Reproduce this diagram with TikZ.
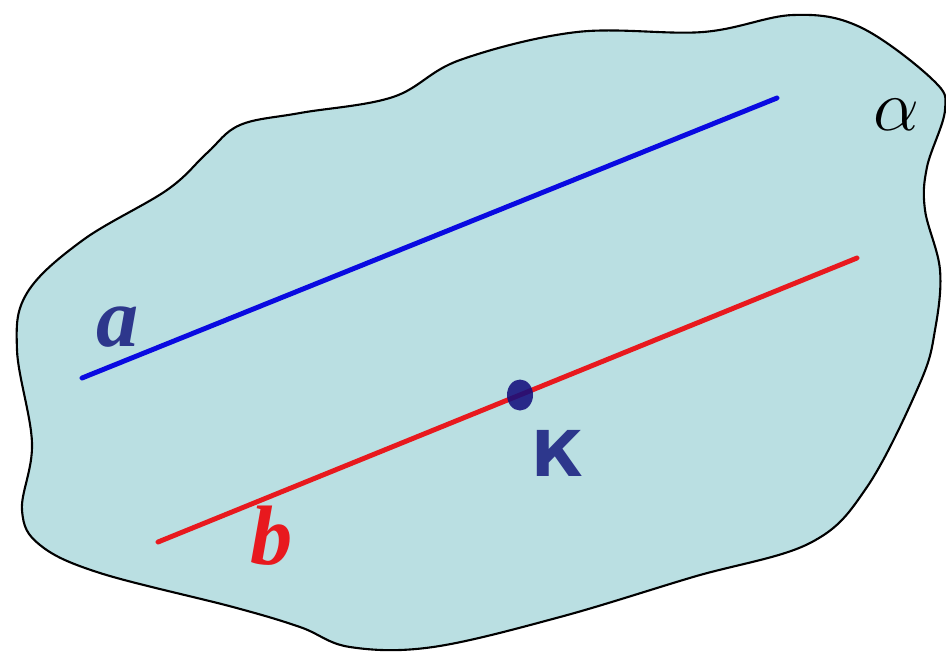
\documentclass[tikz,border=0pt]{standalone}
\usepackage{fontspec}
\setmainfont{Liberation Serif}
\newfontfamily\cyrsans{DejaVu Sans}
\usetikzlibrary{shapes.geometric}
\definecolor{planefill}{RGB}{186,223,226}
\definecolor{lineblue}{RGB}{10,10,225}
\definecolor{linered}{RGB}{232,25,30}
\definecolor{labelnavy}{RGB}{45,55,140}
\definecolor{dotnavy}{RGB}{20,15,125}

\begin{document}
\begin{tikzpicture}[
    x=0.1mm, y=-0.1mm,
    plane/.style ={draw=black, line width=0.6pt, fill=planefill},
    lineA/.style ={draw=lineblue, line width=1.4pt, line cap=round},
    lineB/.style ={draw=linered, line width=1.4pt, line cap=round},
    dot/.style   ={ellipse, fill=dotnavy, fill opacity=0.88, inner sep=0pt,
                   minimum width=2.6mm, minimum height=3.1mm},
    lbl/.style   ={inner sep=0pt, font=\fontsize{24}{24}\selectfont\bfseries\itshape},
]
\useasboundingbox (0,0) rectangle (946,651);
\path[plane] plot[smooth cycle, tension=0.6] coordinates {
    (207,153) (240,125) (300,113) (393,97) (460,60) (577,32) (703,32)
    (793,15) (860,27) (933,80) (945,110) (927,167) (925,210) (940,270)
    (935,330) (920,383) (867,487) (810,543) (693,577) (560,617) (433,647)
    (350,647) (300,627) (233,607) (100,573) (40,545) (22,510) (32,443)
    (17,350) (27,293) (83,240) (167,190)};
\coordinate (a1) at (82,378);
\coordinate (a2) at (777,98);
\coordinate (b1) at (158,542);
\coordinate (b2) at (857,258);
\draw[lineA] (a1) -- (a2);
\draw[lineB] (b1) -- (b2);
\node[dot] (K) at (520,395) {};
\node[lbl, text=labelnavy] (la) at (118,327) {a};
\node[lbl, text=linered] (lb) at (272,536) {b};
\node[inner sep=0pt, text=labelnavy, font=\cyrsans\fontsize{18}{18}\selectfont\bfseries] (lK) at (557,453) {К};
\node[inner sep=0pt, font=\fontsize{22}{22}\selectfont] (alpha) at (896,115) {$\alpha$};
\end{tikzpicture}
\end{document}
